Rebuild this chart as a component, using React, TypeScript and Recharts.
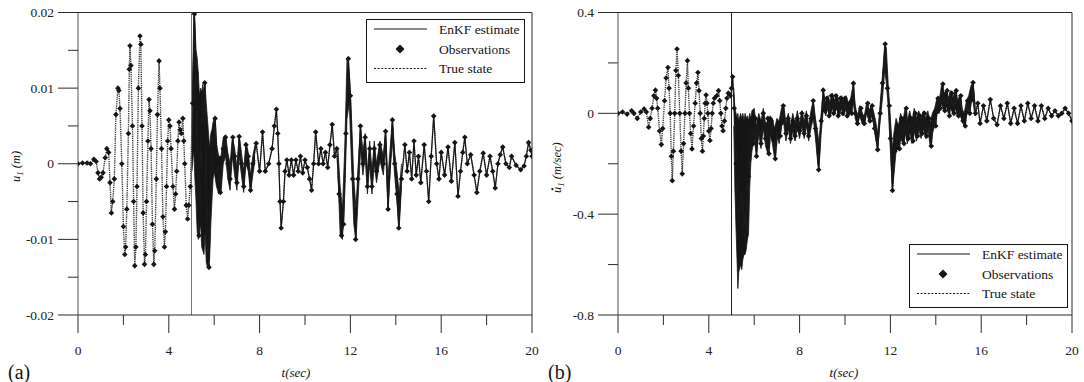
import React from "react";
import { ComposedChart, Line, Scatter, Area, XAxis, YAxis, ReferenceLine } from "recharts";

// ---------- axes ----------
const X_TICKS = [0, 2, 4, 6, 8, 10, 12, 14, 16, 18, 20];
const X_MAJOR = [0, 4, 8, 12, 16, 20];
const Y_TICKS_A = [-0.02, -0.015, -0.01, -0.005, 0, 0.005, 0.01, 0.015, 0.02];
const Y_MAJOR_A = [-0.02, -0.01, 0, 0.01, 0.02];
const Y_TICKS_B = [-0.8, -0.6, -0.4, -0.2, 0, 0.2, 0.4];
const Y_MAJOR_B = [-0.8, -0.4, 0, 0.4];
const FILTER_START = 5;

// ---------- panel (a): displacement u1, values in mm [t, mm] ----------
const TRUE_A_MM: [number, number][] = [
  [0, 0], [0.2, 0.1], [0.4, 0.1], [0.55, 0], [0.7, 0.6], [0.8, 0.3], [0.88, -1.2], [0.95, -2.0], [1.02, -1.8], [1.1, -1.2],
  [1.2, 0.8], [1.27, 2.0], [1.35, 1.5], [1.41, -2.5], [1.47, -6.5], [1.53, -5], [1.6, -2], [1.67, 6.5],
  [1.76, 10.0], [1.8, 9.7], [1.85, 7.3], [1.93, 0], [2.0, -8.3], [2.06, -12.0], [2.1, -11], [2.15, -6],
  [2.22, 4], [2.26, 12.5], [2.29, 15.6], [2.33, 13], [2.4, 5], [2.45, -5], [2.5, -13.5], [2.55, -11],
  [2.6, -3], [2.66, 10], [2.73, 16.9], [2.77, 15.8], [2.82, 5], [2.87, -6.5], [2.93, -13.3], [2.97, -12],
  [3.02, -5], [3.08, 3], [3.13, 8.5], [3.17, 7], [3.22, 2], [3.28, -8], [3.34, -13.3], [3.38, -11.5],
  [3.45, -2], [3.5, 6.5], [3.57, 13.6], [3.61, 10], [3.68, 2], [3.74, -7], [3.81, -11.0], [3.85, -9],
  [3.9, -3], [3.95, 3], [4.0, 5.8], [4.05, 5], [4.1, 2], [4.18, -3], [4.25, -6.0], [4.3, -4],
  [4.35, -1], [4.4, 3], [4.45, 5.5], [4.5, 4.5], [4.55, 4], [4.62, 6.0], [4.66, 3], [4.7, 0],
  [4.77, -5.5], [4.83, -7.3], [4.88, -5.5], [4.95, -3], [5.05, 8], [5.13, 19.8], [5.2, 12], [5.33, -9.5],
  [5.45, 5], [5.58, 10.7], [5.68, -8], [5.77, -13.7], [5.9, 2], [6.04, 6.0], [6.15, 0], [6.27, -3.8],
  [6.4, 2], [6.5, 3.5], [6.6, 0], [6.7, -2], [6.82, 3.5], [6.9, 1], [7.0, -2.5], [7.1, 3.6],
  [7.2, 0], [7.3, -3], [7.4, 2.5], [7.5, 1], [7.6, -3.5], [7.7, 0], [7.85, 2.7], [8.0, -1],
  [8.13, 4.2], [8.25, -1], [8.4, 0], [8.55, 2], [8.65, 5], [8.74, 7.2], [8.8, 4], [8.85, 0], [8.9, -5], [8.95, -8.5],
  [9.05, -5], [9.12, -1], [9.2, 0.5], [9.3, -1.5], [9.4, 0.5], [9.5, -1.5], [9.6, 0.5], [9.7, -1], [9.8, 1],
  [9.9, -1.2], [10.0, 0.5], [10.1, -0.5], [10.2, -2], [10.29, -3.5], [10.38, 0], [10.47, 4.2], [10.6, 0], [10.7, 2],
  [10.8, 0], [10.9, 1.5], [11.0, -0.5], [11.1, 2.5], [11.2, 5.2], [11.3, 1], [11.4, 2], [11.5, -4], [11.61, -9.5],
  [11.7, -8], [11.8, 4], [11.91, 13.9], [12.0, 9], [12.1, -2], [12.23, -10], [12.33, -2], [12.44, 5],
  [12.55, 0], [12.65, 3.5], [12.75, -3], [12.85, 2], [12.95, -3], [13.05, 2], [13.15, -1], [13.3, 2.5],
  [13.45, 0], [13.55, 4.3], [13.66, -6], [13.85, 5.8], [13.95, 0], [14.05, -4], [14.13, -8.5], [14.25, -2],
  [14.4, 2.5], [14.5, -1], [14.6, 1.5], [14.7, -2], [14.8, 3], [14.9, -1.5], [15.0, 1.0], [15.1, -2.5],
  [15.25, 2.5], [15.35, -1], [15.45, -5], [15.56, 1], [15.67, 6.3], [15.8, 0], [15.9, -2], [16.0, 1.5], [16.15, -1.5],
  [16.3, 2.2], [16.45, -2.3], [16.6, 2.8], [16.74, -4.3], [16.85, -1], [16.95, 1.5], [17.04, 3.5], [17.15, 0],
  [17.3, 1.2], [17.45, -1.5], [17.57, -3.8], [17.7, -1], [17.85, 1.4], [18.0, -1.5], [18.15, 1], [18.27, -1],
  [18.38, -3.2], [18.5, 0], [18.6, 1.2], [18.71, 2.2], [18.85, 0], [19.0, -0.5], [19.1, 1.0], [19.3, -0.2],
  [19.5, -0.8], [19.65, -0.3], [19.75, 1], [19.85, 2.8], [19.95, 1.8], [20.0, 1.0],
];

// EnKF dense-oscillation envelope [t, low mm, high mm]
const BAND_A1_MM: [number, number, number][] = [
  [5.02, -1, 6], [5.1, 2, 19.5], [5.15, -2, 18.5], [5.2, -5, 15], [5.25, -9, 14], [5.3, -10, 12],
  [5.35, -9, 9], [5.4, -8, 10], [5.45, -11, 9.5], [5.5, -11.5, 10.5], [5.55, -12, 9], [5.6, -9, 10.5],
  [5.65, -13, 8], [5.7, -13.7, 6], [5.75, -13.5, 4], [5.8, -12.5, 2], [5.85, -8, 4], [5.9, -5, 4.5],
  [5.95, -2, 5.5], [6.0, -1, 6], [6.1, -3, 2.5], [6.2, -4, 1], [6.3, -3.8, 1], [6.4, 0, 3.5],
  [6.5, 1, 3.8], [6.6, -2, 1.5], [6.7, -3.5, 0], [6.8, 1, 3.5], [6.9, -1.5, 2], [7.0, -3.5, -0.5],
  [7.1, 1, 3.8], [7.2, -1.5, 1.5], [7.3, -3.8, -1], [7.4, 0, 2.8], [7.5, -1, 1.5], [7.6, -3.8, -1.5],
  [7.7, -1.5, 1], [7.8, 0.5, 2.5],
];
const BAND_A2_MM: [number, number, number][] = [
  [11.45, -1, 2], [11.55, -9.5, -3], [11.65, -10, -6], [11.75, -4, 2], [11.85, 6, 13.8], [11.95, 8, 12],
  [12.05, 0, 6], [12.15, -8, -2], [12.25, -10, -6], [12.35, -4, 0], [12.45, 2, 5], [12.55, -1.5, 1.5],
  [12.65, 1, 4], [12.75, -4, -1], [12.85, 0, 3], [12.95, -4, -1], [13.05, 0, 3], [13.15, -2.5, 0],
  [13.3, 0.5, 3], [13.45, -1.5, 1], [13.55, 2, 4.5], [13.65, -6, -2], [13.75, -1, 2], [13.85, 3, 6],
  [13.95, -1.5, 1.5], [14.05, -5, -1], [14.15, -8.5, -4], [14.25, -3, 0],
];

// ---------- panel (b): velocity du1/dt in m/s [t, m/s] ----------
const TRUE_B: [number, number][] = [
  [0, 0], [0.2, 0.005], [0.4, -0.003], [0.6, 0.01], [0.7, 0], [0.85, -0.02], [1.0, 0.005], [1.15, 0.017],
  [1.25, 0.005], [1.35, -0.055], [1.42, -0.02], [1.5, 0.02], [1.58, 0.07], [1.65, 0.092], [1.7, 0.06], [1.75, 0.02],
  [1.83, -0.07], [1.91, -0.124], [1.97, -0.06], [2.05, 0.05], [2.12, 0.14], [2.2, 0.182], [2.25, 0.1], [2.3, 0.0],
  [2.35, -0.17], [2.39, -0.267], [2.44, -0.15], [2.5, 0.0], [2.55, 0.17], [2.6, 0.255], [2.66, 0.15], [2.72, 0.0],
  [2.78, -0.15], [2.83, -0.24], [2.89, -0.12], [2.95, 0.0], [3.0, 0.12], [3.06, 0.209], [3.1, 0.1], [3.15, 0.0],
  [3.2, -0.08], [3.26, -0.141], [3.33, -0.05], [3.4, 0.04], [3.46, 0.12], [3.52, 0.162], [3.57, 0.09], [3.62, 0.0],
  [3.67, -0.1], [3.72, -0.15], [3.76, -0.09], [3.8, -0.02], [3.84, 0.04], [3.88, 0.073], [3.92, 0.04], [3.96, 0.0],
  [4.0, -0.07], [4.05, -0.108], [4.1, -0.06], [4.15, 0.0], [4.2, 0.04], [4.25, 0.06], [4.35, 0.07], [4.43, 0.09],
  [4.48, 0.05], [4.53, 0.0], [4.58, -0.05], [4.63, -0.069], [4.69, -0.03], [4.75, 0.02], [4.8, 0.06], [4.86, 0.08],
  [4.95, 0.07], [5.0, 0.1], [5.05, 0.145], [5.12, 0.02], [5.2, -0.2], [5.3, -0.45], [5.45, -0.3], [5.6, -0.5],
  [5.75, -0.25], [5.85, -0.05], [5.95, -0.12], [6.05, -0.02], [6.1, -0.17], [6.2, -0.03], [6.3, -0.12], [6.4, 0.0],
  [6.5, -0.1], [6.6, -0.02], [6.65, -0.16], [6.75, -0.03], [6.85, -0.1], [6.93, -0.18], [7.05, -0.05], [7.15, -0.09],
  [7.28, 0.03], [7.4, -0.08], [7.5, -0.02], [7.6, -0.1], [7.7, -0.03], [7.8, -0.09], [7.9, -0.02], [8.0, -0.07],
  [8.1, 0.0], [8.2, -0.08], [8.3, -0.01], [8.4, -0.09], [8.5, -0.02], [8.6, 0.05], [8.7, -0.06], [8.84, -0.224],
  [8.95, -0.03], [9.04, 0.092], [9.1, 0.01], [9.2, 0.06], [9.3, -0.01], [9.4, 0.07], [9.5, 0.0], [9.6, 0.07],
  [9.7, -0.01], [9.8, 0.06], [9.9, 0.0], [10.0, 0.06], [10.1, -0.01], [10.2, 0.04], [10.3, 0.0], [10.37, 0.119],
  [10.45, 0.0], [10.55, -0.04], [10.7, 0.02], [10.85, -0.04], [11.0, 0.04], [11.1, -0.03], [11.2, 0.03], [11.3, -0.06],
  [11.44, -0.144], [11.55, 0.0], [11.65, 0.12], [11.77, 0.275], [11.87, 0.1], [11.95, 0.03], [12.0, -0.1], [12.09, -0.306],
  [12.2, -0.15], [12.3, -0.05], [12.4, -0.14], [12.5, -0.02], [12.6, -0.12], [12.7, 0.02], [12.8, -0.1], [12.9, -0.02],
  [13.0, -0.11], [13.1, 0.0], [13.2, -0.09], [13.3, -0.01], [13.4, -0.08], [13.5, 0.0], [13.6, -0.09], [13.7, -0.02],
  [13.8, -0.13], [13.9, -0.02], [14.0, -0.05], [14.1, 0.06], [14.2, 0.02], [14.31, 0.116], [14.4, 0.01], [14.5, 0.09],
  [14.6, -0.01], [14.7, 0.08], [14.8, 0.0], [14.9, 0.09], [15.0, -0.01], [15.1, 0.07], [15.2, -0.03], [15.3, -0.05],
  [15.4, 0.05], [15.5, 0.0], [15.64, 0.122], [15.75, 0.0], [15.85, 0.04], [15.95, -0.04], [16.1, 0.03], [16.25, -0.03],
  [16.4, 0.055], [16.55, -0.02], [16.7, -0.045], [16.85, 0.03], [17.0, -0.02], [17.15, 0.04], [17.3, -0.04], [17.45, 0.02],
  [17.6, -0.04], [17.75, 0.03], [17.9, -0.03], [18.05, 0.04], [18.2, -0.02], [18.35, 0.03], [18.5, -0.03], [18.65, 0.03],
  [18.8, -0.02], [18.95, 0.02], [19.1, -0.01], [19.25, 0.01], [19.4, -0.01], [19.55, 0.0], [19.7, 0.02], [19.85, 0.0],
  [20.0, -0.03],
];

const BAND_B: [number, number, number][] = [
  [5.1, -0.05, 0.1], [5.15, -0.3, 0.02], [5.2, -0.46, 0.0], [5.25, -0.6, -0.02], [5.28, -0.695, 0.0], [5.32, -0.63, -0.03],
  [5.4, -0.6, 0.0], [5.45, -0.62, -0.02], [5.5, -0.58, 0.0], [5.55, -0.56, -0.03], [5.6, -0.56, 0.0], [5.65, -0.54, -0.02],
  [5.7, -0.5, -0.01], [5.75, -0.48, -0.03], [5.8, -0.3, 0.0], [5.85, -0.2, -0.02], [5.9, -0.15, 0.01], [6.0, -0.1, 0.02],
  [6.1, -0.17, -0.05], [6.2, -0.08, 0.0], [6.3, -0.14, -0.03], [6.4, -0.06, 0.02], [6.5, -0.13, -0.04], [6.6, -0.16, -0.03],
  [6.7, -0.08, -0.01], [6.8, -0.12, -0.02], [6.9, -0.18, -0.06], [7.0, -0.09, -0.02], [7.1, -0.12, -0.03], [7.2, -0.05, 0.02],
  [7.3, -0.04, 0.035], [7.4, -0.11, -0.04], [7.5, -0.06, 0.0], [7.6, -0.12, -0.05], [7.7, -0.07, 0.0], [7.8, -0.11, -0.04],
  [7.9, -0.06, 0.01], [8.0, -0.1, -0.04], [8.1, -0.05, 0.01], [8.2, -0.1, -0.03], [8.3, -0.05, 0.01], [8.4, -0.11, -0.05],
  [8.5, -0.06, 0.01], [8.6, -0.02, 0.05], [8.7, -0.1, -0.02], [8.8, -0.2, -0.08], [8.85, -0.224, -0.12], [8.95, -0.08, 0.0],
  [9.05, 0.02, 0.092], [9.15, -0.01, 0.04], [9.25, 0.02, 0.07], [9.35, -0.01, 0.04], [9.45, 0.02, 0.08], [9.55, 0.0, 0.05],
  [9.65, 0.02, 0.075], [9.75, -0.01, 0.04], [9.85, 0.02, 0.07], [9.95, -0.01, 0.05], [10.05, 0.02, 0.07], [10.15, -0.01, 0.04],
  [10.25, 0.0, 0.06], [10.37, 0.04, 0.119], [10.45, -0.02, 0.03], [10.55, -0.05, -0.01], [10.65, -0.01, 0.03], [10.75, -0.04, 0.0],
  [10.85, -0.05, -0.01], [10.95, 0.0, 0.04], [11.05, -0.03, 0.01], [11.15, -0.01, 0.03], [11.25, -0.04, 0.01], [11.35, -0.1, -0.03],
  [11.44, -0.144, -0.08], [11.55, -0.03, 0.04], [11.65, 0.06, 0.15], [11.75, 0.17, 0.275], [11.82, 0.12, 0.26], [11.9, 0.03, 0.12],
  [12.0, -0.15, -0.02], [12.09, -0.306, -0.14], [12.15, -0.25, -0.08], [12.25, -0.15, -0.02], [12.35, -0.14, -0.05], [12.45, -0.1, 0.0],
  [12.55, -0.12, -0.03], [12.65, -0.08, 0.02], [12.75, -0.12, -0.03], [12.85, -0.07, 0.01], [12.95, -0.12, -0.03], [13.05, -0.07, 0.02],
  [13.15, -0.11, -0.02], [13.25, -0.06, 0.01], [13.35, -0.1, -0.02], [13.45, -0.06, 0.01], [13.55, -0.1, -0.02], [13.65, -0.06, 0.01],
  [13.75, -0.13, -0.04], [13.85, -0.08, 0.0], [13.95, -0.05, 0.02], [14.05, 0.0, 0.06], [14.15, 0.0, 0.05], [14.25, 0.04, 0.11],
  [14.35, 0.01, 0.08], [14.45, 0.03, 0.09], [14.55, 0.0, 0.06], [14.65, 0.02, 0.09], [14.75, 0.0, 0.06], [14.85, 0.02, 0.09],
  [14.95, -0.01, 0.05], [15.05, 0.0, 0.07], [15.15, -0.03, 0.02], [15.25, -0.05, 0.0], [15.35, -0.01, 0.05], [15.45, 0.01, 0.07],
  [15.55, 0.04, 0.11], [15.64, 0.05, 0.122], [15.72, -0.01, 0.04],
];

// ---------- styling ----------
const SERIF = "'Liberation Serif', 'Times New Roman', serif";
const AXIS = "#2a2a2a";
const INK = "#151515";

const Diamond = (p: any) => {
  const { cx, cy } = p;
  if (cx == null || cy == null || isNaN(cx) || isNaN(cy)) return <g />;
  const r = 2.8;
  return <path d={`M${cx},${cy - r}L${cx + r},${cy}L${cx},${cy + r}L${cx - r},${cy}Z`} fill={INK} />;
};

const makeXTick = () => (p: any) => {
  const { x, y, payload } = p;
  const major = X_MAJOR.includes(payload.value);
  return (
    <g>
      <line x1={x} x2={x} y1={y} y2={y + (major ? 18 : 10)} stroke={AXIS} strokeWidth={1} />
      {major && (
        <text x={x} y={y + 39.5} textAnchor="middle" fontFamily={SERIF} fontSize={13.5} fill="#222">
          {String(payload.value)}
        </text>
      )}
    </g>
  );
};

const makeYTick = (majors: number[]) => (p: any) => {
  const { x, y, payload } = p;
  const major = majors.includes(payload.value);
  return (
    <g>
      <line x1={x - (major ? 20 : 10)} x2={x} y1={y} y2={y} stroke={AXIS} strokeWidth={1} />
      {major && (
        <text x={x - 24} y={y + 4.5} textAnchor="end" fontFamily={SERIF} fontSize={13.5} fill="#222">
          {String(payload.value)}
        </text>
      )}
    </g>
  );
};

type PanelProps = {
  truth: { t: number; v: number }[];
  bandRows: any[];
  bandKeys: string[];
  yDomain: [number, number];
  yTicks: number[];
  yMajor: number[];
  startStroke: string;
};

function Panel({ truth, bandRows, bandKeys, yDomain, yTicks, yMajor, startStroke }: PanelProps) {
  const enkf = truth.filter((d) => d.t >= FILTER_START);
  return (
    <ComposedChart width={545} height={382} data={bandRows} margin={{ top: 12.5, right: 13, bottom: 0, left: 18 }}>
      <XAxis
        dataKey="t"
        type="number"
        domain={[0, 20]}
        ticks={X_TICKS}
        interval={0}
        height={67}
        tickSize={0}
        tickMargin={0}
        tickLine={false}
        axisLine={{ stroke: AXIS }}
        tick={makeXTick()}
        allowDataOverflow
      />
      <YAxis
        type="number"
        domain={yDomain}
        ticks={yTicks}
        interval={0}
        width={60}
        tickSize={0}
        tickMargin={0}
        tickLine={false}
        axisLine={{ stroke: "#555" }}
        tick={makeYTick(yMajor)}
        allowDataOverflow
      />
      <ReferenceLine y={yDomain[1]} stroke={AXIS} />
      <ReferenceLine x={20} stroke={AXIS} />
      <ReferenceLine x={FILTER_START} stroke={startStroke} strokeWidth={1} />
      {bandKeys.map((k) => (
        <Area
          key={k}
          dataKey={k}
          type="linear"
          fill={INK}
          fillOpacity={1}
          stroke={INK}
          strokeWidth={0.8}
          connectNulls
          dot={false}
          activeDot={false}
          isAnimationActive={false}
        />
      ))}
      <Line
        data={truth}
        dataKey="v"
        type="linear"
        stroke="#3a3a3a"
        strokeWidth={1.4}
        strokeDasharray="1.3 0.9"
        dot={false}
        activeDot={false}
        isAnimationActive={false}
      />
      <Line
        data={enkf}
        dataKey="v"
        type="linear"
        stroke={INK}
        strokeWidth={1.1}
        dot={false}
        activeDot={false}
        isAnimationActive={false}
      />
      <Scatter data={truth} dataKey="v" shape={Diamond} isAnimationActive={false} />
    </ComposedChart>
  );
}

function Legend({ x, y }: { x: number; y: number }) {
  const rows = [y + 10, y + 30, y + 49.5];
  return (
    <g>
      <rect x={x + 0.5} y={y + 0.5} width={158} height={63} fill="#fff" stroke={INK} strokeWidth={1} />
      <line x1={x + 8} x2={x + 61} y1={rows[0]} y2={rows[0]} stroke={INK} strokeWidth={1} />
      <path d={`M${x + 34},${rows[1] - 4.5}L${x + 38.5},${rows[1]}L${x + 34},${rows[1] + 4.5}L${x + 29.5},${rows[1]}Z`} fill={INK} />
      <line x1={x + 8} x2={x + 61} y1={rows[2]} y2={rows[2]} stroke={INK} strokeWidth={1} strokeDasharray="2 1.6" />
      {["EnKF estimate", "Observations", "True state"].map((s, i) => (
        <text key={s} x={x + 73} y={rows[i] + 4.5} fontFamily={SERIF} fontSize={13.5} fill={INK}>
          {s}
        </text>
      ))}
    </g>
  );
}

export default function App() {
  const truthA = TRUE_A_MM.map(([t, v]) => ({ t, v: v / 1000 }));
  const bandRowsA = [
    ...BAND_A1_MM.map(([t, lo, hi]) => ({ t, b1: [lo / 1000, hi / 1000] })),
    ...BAND_A2_MM.map(([t, lo, hi]) => ({ t, b2: [lo / 1000, hi / 1000] })),
  ];
  const truthB = TRUE_B.map(([t, v]) => ({ t, v }));
  const bandRowsB = BAND_B.map(([t, lo, hi]) => ({ t, b1: [lo, hi] }));

  return (
    <div style={{ position: "absolute", left: 0, top: 0, width: 1084, height: 382, background: "#fff" }}>
      <div style={{ position: "absolute", left: 0, top: 0 }}>
        <Panel
          truth={truthA}
          bandRows={bandRowsA}
          bandKeys={["b1", "b2"]}
          yDomain={[-0.02, 0.02]}
          yTicks={Y_TICKS_A}
          yMajor={Y_MAJOR_A}
          startStroke="#777"
        />
      </div>
      <div style={{ position: "absolute", left: 540, top: 0 }}>
        <Panel
          truth={truthB}
          bandRows={bandRowsB}
          bandKeys={["b1"]}
          yDomain={[-0.8, 0.4]}
          yTicks={Y_TICKS_B}
          yMajor={Y_MAJOR_B}
          startStroke="#222"
        />
      </div>
      <svg width={1084} height={382} style={{ position: "absolute", left: 0, top: 0, pointerEvents: "none" }}>
        <Legend x={366} y={19} />
        <Legend x={909} y={244} />
        <text x={8} y={379} fontFamily={SERIF} fontSize={20} fill={INK}>(a)</text>
        <text x={548} y={379} fontFamily={SERIF} fontSize={20} fill={INK}>(b)</text>
        <text x={296} y={377} textAnchor="middle" fontFamily={SERIF} fontSize={13} fontStyle="italic" fill={INK}>t(sec)</text>
        <text x={844} y={377} textAnchor="middle" fontFamily={SERIF} fontSize={13} fontStyle="italic" fill={INK}>t(sec)</text>
        <g transform="translate(20,163) rotate(-90)">
          <text x={-19} y={0} fontFamily={SERIF} fontSize={12.5} fontStyle="italic" fill={INK}>
            u<tspan fontSize={9} dy={3}>1</tspan><tspan dy={-3}> (m)</tspan>
          </text>
        </g>
        <g transform="translate(561,163) rotate(-90)">
          <text x={-30} y={0} fontFamily={SERIF} fontSize={12.5} fontStyle="italic" fill={INK}>
            u<tspan fontSize={9} dy={3}>1</tspan><tspan dy={-3}> (m/sec)</tspan>
          </text>
          <circle cx={-26.2} cy={-8.6} r={1.1} fill={INK} />
        </g>
      </svg>
    </div>
  );
}
